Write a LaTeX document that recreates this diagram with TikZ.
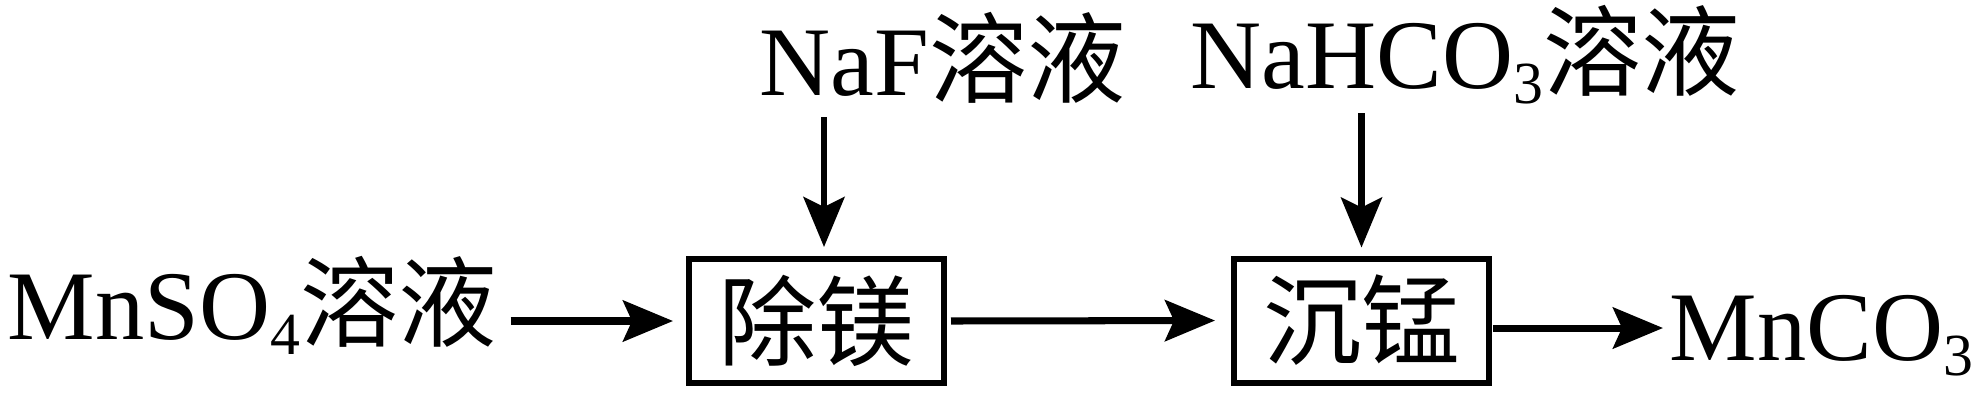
\documentclass[tikz,border=0pt]{standalone}
\usepackage{fontspec}
\setmainfont{Liberation Serif}
\newfontfamily\cjk{Noto Sans CJK SC}
\usetikzlibrary{arrows.meta}
\newcommand{\zh}[1]{{\cjk #1}}
\newcommand{\chemsub}[1]{\raisebox{-0.15cm}{\fontsize{17}{17}\selectfont #1}}

\begin{document}
\begin{tikzpicture}[font=\fontsize{28}{34}\selectfont,
    box/.style={draw,line width=1.7pt,minimum width=2.55cm,minimum height=1.24cm,inner sep=0pt},
    flow/.style={-{Stealth[length=5mm,width=4.1mm,inset=0.9mm]},line width=2pt},
    feed/.style={-{Stealth[length=5mm,width=4.1mm,inset=1mm]},line width=1.8pt},
    label/.style={anchor=base west,inner sep=0pt}]
    \useasboundingbox (0,0) rectangle (19.84,4.03);
    % Nodes
    \node (chumei) at (8.165,0.82) [box] {\zh{除镁}};
    \node (chenmeng) at (13.615,0.825) [box] {\zh{沉锰}};
    \node (mnso4) at (0.07,0.64) [label] {MnSO\chemsub{4}\zh{溶液}};
    \node (naf) at (7.59,3.08) [label] {NaF\zh{溶液}};
    \node (nahco3) at (11.90,3.15) [label] {NaHCO\chemsub{3}\zh{溶液}};
    \node (mnco3) at (16.69,0.43) [label] {MnCO\chemsub{3}};
    % Edges
    \draw[flow,shorten <=1.3mm,shorten >=1.3mm] (mnso4.east |- chumei.west) -- (chumei.west);
    \draw[flow,shorten <=0.4mm,shorten >=1.6mm] (chumei.east) -- (chenmeng.west);
    \draw[flow,shorten <=0.1mm,shorten >=0.6mm] ([yshift=-0.75mm]chenmeng.east) -- ([yshift=-0.75mm]chenmeng.east -| mnco3.west);
    \draw[feed,shorten <=2.2mm,shorten >=0.9mm] ([xshift=0.75mm]chumei.north |- naf.base) -- ([xshift=0.75mm]chumei.north);
    \draw[feed,shorten <=2.5mm,shorten >=0.8mm] (chenmeng.north |- nahco3.base) -- (chenmeng.north);
\end{tikzpicture}
\end{document}
